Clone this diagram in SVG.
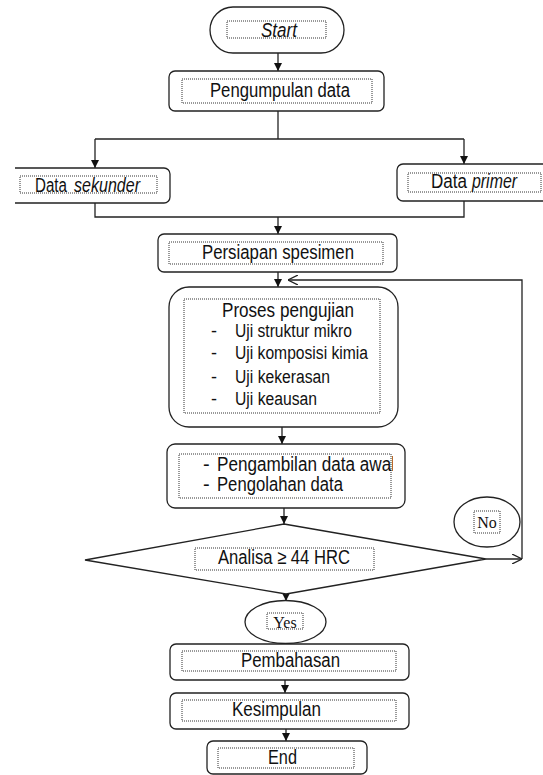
<svg xmlns="http://www.w3.org/2000/svg" width="543" height="775" viewBox="0 0 543 775">
<style>
.box{fill:#fff;stroke:#222;stroke-width:1.3}
.dot{fill:none;stroke:#333;stroke-width:1;stroke-dasharray:1 1}
.ln{fill:none;stroke:#222;stroke-width:1.3}
.t{font-family:"Liberation Sans",Arial,sans-serif;font-size:20px;fill:#111}
.s{font-family:"Liberation Sans",Arial,sans-serif;font-size:18px;fill:#111}
.ser{font-family:"Liberation Serif","Times New Roman",serif;font-size:16px;fill:#111}
</style>
<defs>
<marker id="ah" viewBox="0 0 10 10" refX="10" refY="5" markerWidth="8" markerHeight="8" markerUnits="userSpaceOnUse" orient="auto"><path d="M0,0 L10,5 L0,10 z" fill="#111"/></marker>
<marker id="oh" viewBox="0 0 10 10" refX="10" refY="5" markerWidth="10" markerHeight="10" markerUnits="userSpaceOnUse" orient="auto"><path d="M0,0 L10,5 L0,10" fill="none" stroke="#222" stroke-width="1.3"/></marker>
<clipPath id="clipA"><rect x="179" y="454" width="214" height="44"/></clipPath>
</defs>
<rect width="543" height="775" fill="#fff"/>
<g id="connectors">
<path class="ln" d="M278,53 V71" marker-end="url(#ah)"/>
<path class="ln" d="M278,111 V139"/>
<path class="ln" d="M95,139 H464"/>
<path class="ln" d="M95,139 V168" marker-end="url(#ah)"/>
<path class="ln" d="M464,139 V164" marker-end="url(#ah)"/>
<path class="ln" d="M95,203 V217 H464 V201"/>
<path class="ln" d="M278,217 V234" marker-end="url(#ah)"/>
<path class="ln" d="M278,272 V287" marker-end="url(#ah)"/>
<path class="ln" d="M282,427 V444" marker-end="url(#ah)"/>
<path class="ln" d="M284,508 V524" marker-end="url(#ah)"/>
<path class="ln" d="M286,594 V601" marker-end="url(#ah)"/>
<path class="ln" d="M285,680 V693" marker-end="url(#ah)"/>
<path class="ln" d="M286,729 V741" marker-end="url(#ah)"/>
<path class="ln" d="M486,559 H522" marker-end="url(#oh)"/>
<path class="ln" d="M522,559 V280 H288" marker-end="url(#oh)"/>
</g>
<g id="start">
<rect class="box" x="210" y="7" width="134" height="46" rx="23"/>
<rect class="dot" x="227" y="21" width="99" height="17"/>
<text class="t" x="261" y="37" font-style="italic" textLength="36" lengthAdjust="spacingAndGlyphs">Start</text>
</g>
<g id="pengumpulan">
<rect class="box" x="169" y="71" width="215" height="40" rx="6"/>
<rect class="dot" x="182" y="79" width="190" height="24"/>
<text class="t" x="210" y="97" textLength="140" lengthAdjust="spacingAndGlyphs">Pengumpulan data</text>
</g>
<g id="sekunder">
<path class="box" d="M15,168 H164 A6,6 0 0 1 170,174 V197 A6,6 0 0 1 164,203 H15"/>
<rect class="dot" x="20" y="176" width="137" height="17"/>
<text class="t" x="35" y="192" textLength="32" lengthAdjust="spacingAndGlyphs">Data</text>
<text class="t" x="74" y="192" font-style="italic" textLength="66" lengthAdjust="spacingAndGlyphs">sekunder</text>
</g>
<g id="primer">
<path class="box" d="M543,164 H403 A6,6 0 0 0 397,170 V195 A6,6 0 0 0 403,201 H543"/>
<rect class="dot" x="408" y="173" width="133" height="19"/>
<text class="t" x="431" y="188" textLength="36" lengthAdjust="spacingAndGlyphs">Data</text>
<text class="t" x="472" y="188" font-style="italic" textLength="45" lengthAdjust="spacingAndGlyphs">primer</text>
</g>
<g id="persiapan">
<rect class="box" x="158" y="234" width="239" height="38" rx="6"/>
<rect class="dot" x="169" y="242" width="214" height="22"/>
<text class="t" x="202" y="259" textLength="152" lengthAdjust="spacingAndGlyphs">Persiapan spesimen</text>
</g>
<g id="proses">
<rect class="box" x="169" y="287" width="229" height="140" rx="20"/>
<rect class="dot" x="184" y="299" width="196" height="114"/>
<text class="t" x="222" y="317" textLength="132" lengthAdjust="spacingAndGlyphs">Proses pengujian</text>
<text class="s" x="211" y="337">-</text>
<text class="s" x="235" y="337" textLength="117" lengthAdjust="spacingAndGlyphs">Uji struktur mikro</text>
<text class="s" x="211" y="359">-</text>
<text class="s" x="235" y="359" textLength="133" lengthAdjust="spacingAndGlyphs">Uji komposisi kimia</text>
<text class="s" x="211" y="383">-</text>
<text class="s" x="235" y="383" textLength="95" lengthAdjust="spacingAndGlyphs">Uji kekerasan</text>
<text class="s" x="211" y="405">-</text>
<text class="s" x="235" y="405" textLength="82" lengthAdjust="spacingAndGlyphs">Uji keausan</text>
</g>
<g id="pengambilan">
<rect class="box" x="167" y="444" width="238" height="64" rx="8"/>
<rect class="dot" x="179" y="454" width="212" height="44"/>
<text class="t" x="203" y="471">-</text>
<text class="t" x="217" y="471" textLength="178" lengthAdjust="spacingAndGlyphs" clip-path="url(#clipA)">Pengambilan data awal</text>
<text class="t" x="203" y="491">-</text>
<text class="t" x="217" y="491" textLength="126" lengthAdjust="spacingAndGlyphs">Pengolahan data</text>
</g>
<g id="analisa">
<polygon class="box" points="284,524 486,559 286,594 85,560"/>
<rect class="dot" x="195" y="548" width="179" height="22"/>
<text class="t" x="218" y="564" textLength="132" lengthAdjust="spacingAndGlyphs">Analisa ≥ 44 HRC</text>
</g>
<g id="no">
<ellipse class="box" cx="487" cy="522" rx="33" ry="25"/>
<rect class="dot" x="474" y="511" width="26" height="22"/>
<text class="ser" x="487" y="528" text-anchor="middle">No</text>
</g>
<g id="yes">
<ellipse class="box" cx="285.5" cy="622" rx="40.5" ry="21.5"/>
<rect class="dot" x="267" y="613" width="36" height="16"/>
<text class="ser" x="285" y="628" text-anchor="middle" font-size="15">Yes</text>
</g>
<g id="pembahasan">
<rect class="box" x="170" y="644" width="239" height="36" rx="6"/>
<rect class="dot" x="182" y="651" width="214" height="20"/>
<text class="t" x="241" y="667" textLength="99" lengthAdjust="spacingAndGlyphs">Pembahasan</text>
</g>
<g id="kesimpulan">
<rect class="box" x="170" y="693" width="239" height="36" rx="6"/>
<rect class="dot" x="182" y="700" width="214" height="21"/>
<text class="t" x="232" y="716" textLength="89" lengthAdjust="spacingAndGlyphs">Kesimpulan</text>
</g>
<g id="end">
<rect class="box" x="207" y="741" width="160" height="33" rx="6"/>
<rect class="dot" x="218" y="748" width="136" height="20"/>
<text class="t" x="268" y="764" textLength="29" lengthAdjust="spacingAndGlyphs">End</text>
</g>
</svg>
